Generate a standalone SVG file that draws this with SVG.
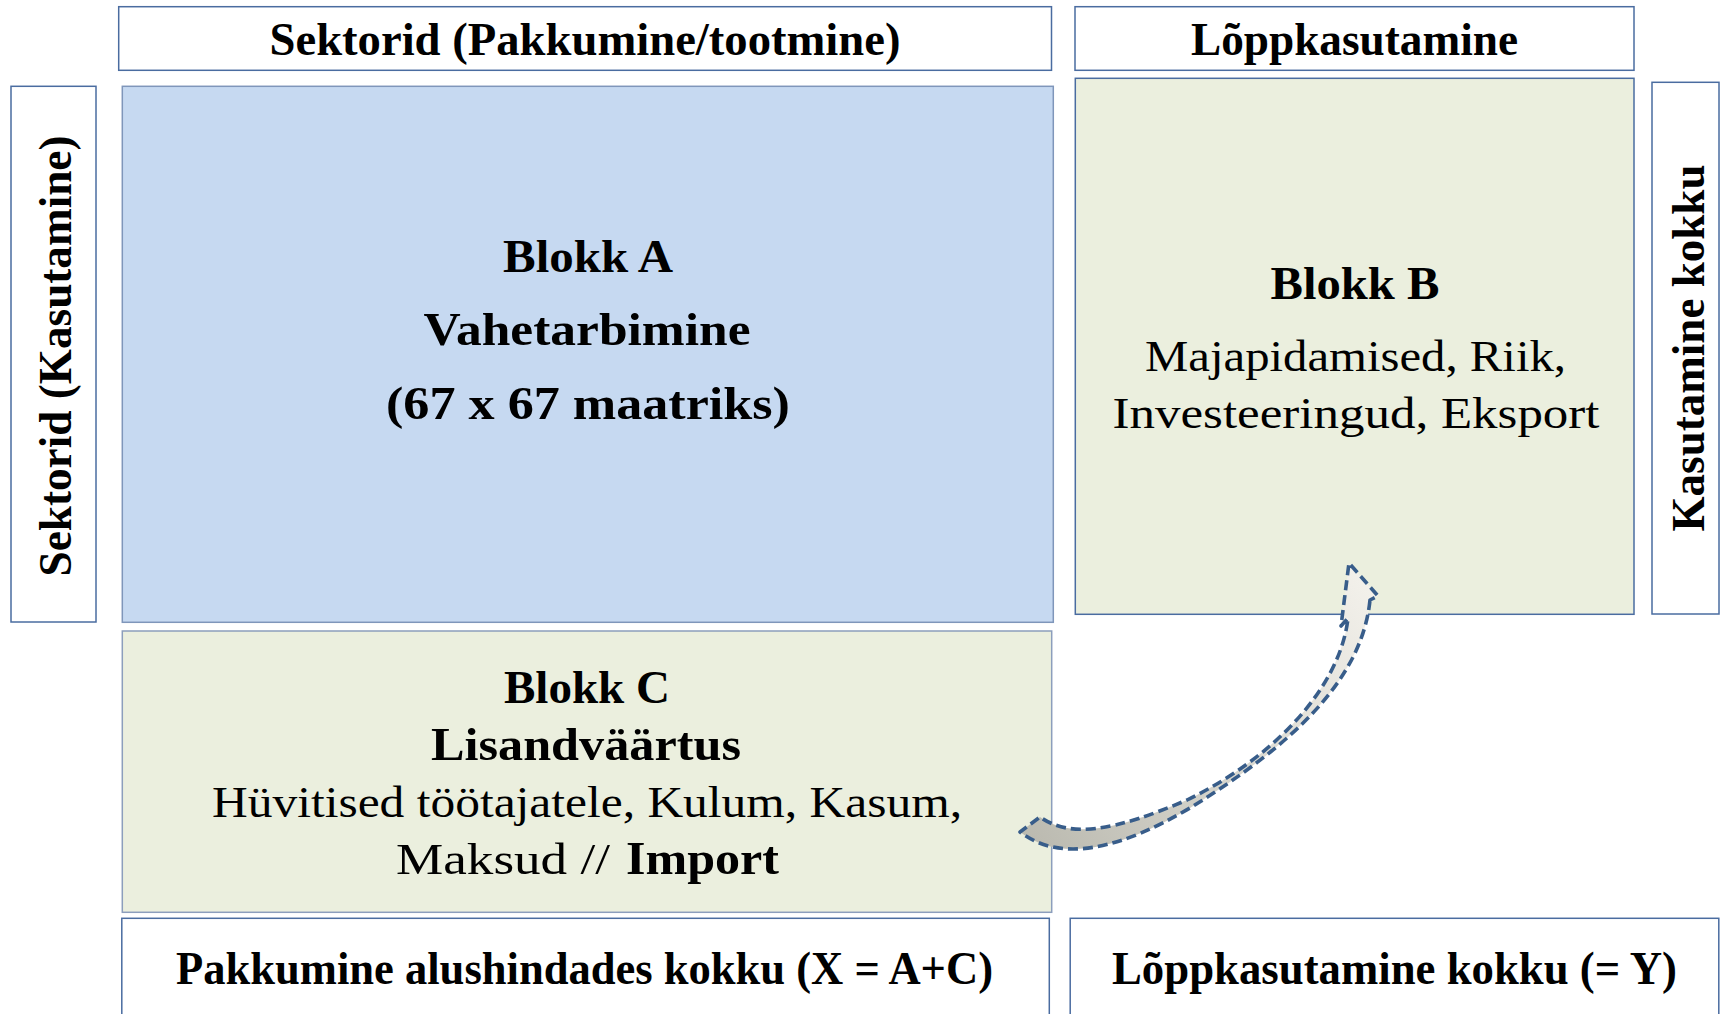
<svg xmlns="http://www.w3.org/2000/svg" width="1721" height="1014" viewBox="0 0 1721 1014">
<style>
  .box{stroke:#4A6CA0;stroke-width:1.5}
  .white{fill:#FFFFFF}
  .blue{fill:#C6D9F1;stroke:#7F96BA}
  .green{fill:#EBEFDE}
  .greenC{fill:#EBEFDE;stroke:#8C9EBC}
  .t{font-family:"Liberation Serif","Times New Roman",serif;fill:#000;text-anchor:middle}
  .b{font-weight:bold;font-size:47px}
  .r{font-weight:normal;font-size:44px}
  .arrow{stroke:#385D8A;stroke-width:3.6;stroke-dasharray:10 5;stroke-linejoin:round}
</style>
<defs>
  <linearGradient id="ag" gradientUnits="userSpaceOnUse" x1="1030" y1="840" x2="1360" y2="580">
    <stop offset="0" stop-color="#BBBAB0"/>
    <stop offset="0.5" stop-color="#D9D8D0"/>
    <stop offset="1" stop-color="#F2F0EA"/>
  </linearGradient>
</defs>
<rect width="1721" height="1014" fill="#FFFFFF"/>

<g id="top-sektorid">
  <rect class="box white" x="118.7" y="6.7" width="932.8" height="63.6"/>
  <text class="t b" x="585" y="55" textLength="631" lengthAdjust="spacingAndGlyphs">Sektorid (Pakkumine/tootmine)</text>
</g>
<g id="top-loppkasutamine">
  <rect class="box white" x="1075" y="6.7" width="559" height="63.6"/>
  <text class="t b" x="1354.5" y="54.5" textLength="327" lengthAdjust="spacingAndGlyphs">Lõppkasutamine</text>
</g>
<g id="left-sektorid">
  <rect class="box white" x="11" y="86.3" width="85" height="535.7"/>
  <text class="t b" transform="translate(71,356) rotate(-90)" x="0" y="0" textLength="441" lengthAdjust="spacingAndGlyphs">Sektorid (Kasutamine)</text>
</g>
<g id="right-kasutamine">
  <rect class="box white" x="1652" y="82.3" width="67" height="531.7"/>
  <text class="t b" transform="translate(1704,348) rotate(-90)" x="0" y="0" textLength="367" lengthAdjust="spacingAndGlyphs">Kasutamine kokku</text>
</g>
<g id="blokk-a">
  <rect class="box blue" x="122.3" y="86.3" width="931" height="536"/>
  <text class="t b" x="588" y="272" textLength="170" lengthAdjust="spacingAndGlyphs">Blokk A</text>
  <text class="t b" x="587" y="345" textLength="327" lengthAdjust="spacingAndGlyphs">Vahetarbimine</text>
  <text class="t b" x="588" y="419" textLength="404" lengthAdjust="spacingAndGlyphs">(67 x 67 maatriks)</text>
</g>
<g id="blokk-b">
  <rect class="box green" x="1075.3" y="78.3" width="558.7" height="536"/>
  <text class="t b" x="1355" y="299" textLength="169" lengthAdjust="spacingAndGlyphs">Blokk B</text>
  <text class="t r" x="1355.5" y="371" textLength="421" lengthAdjust="spacingAndGlyphs">Majapidamised, Riik,</text>
  <text class="t r" x="1356" y="428" textLength="487" lengthAdjust="spacingAndGlyphs">Investeeringud, Eksport</text>
</g>
<g id="blokk-c">
  <rect class="box greenC" x="122.3" y="631" width="929.4" height="281.3"/>
  <text class="t b" x="587" y="703" textLength="166" lengthAdjust="spacingAndGlyphs">Blokk C</text>
  <text class="t b" x="586" y="760" textLength="310" lengthAdjust="spacingAndGlyphs">Lisandväärtus</text>
  <text class="t r" x="587" y="817" textLength="750" lengthAdjust="spacingAndGlyphs">Hüvitised töötajatele, Kulum, Kasum,</text>
  <text class="t r" x="396" y="874" style="text-anchor:start" textLength="214" lengthAdjust="spacingAndGlyphs">Maksud //</text>
  <text class="t b" x="626" y="874" style="text-anchor:start" textLength="153" lengthAdjust="spacingAndGlyphs">Import</text>
</g>
<g id="bottom-pakkumine">
  <rect class="box white" x="121.8" y="918.3" width="927.5" height="110"/>
  <text class="t b" x="584.5" y="984" textLength="817" lengthAdjust="spacingAndGlyphs">Pakkumine alushindades kokku (X = A+C)</text>
</g>
<g id="bottom-loppkasutamine">
  <rect class="box white" x="1070.2" y="918.3" width="648.6" height="110"/>
  <text class="t b" x="1394.5" y="984" textLength="565" lengthAdjust="spacingAndGlyphs">Lõppkasutamine kokku (= Y)</text>
</g>
<g id="connectors">
  <path class="arrow" fill="url(#ag)" d="M1370,600 C1362,680 1292,745 1190,808 C1122,848 1062,864 1020,832 L1040,817 C1070,838 1112,832 1187,800 C1270,760 1340,690 1348,618 L1341,626 L1349,563 L1378,596 Z"/>
</g>
</svg>
